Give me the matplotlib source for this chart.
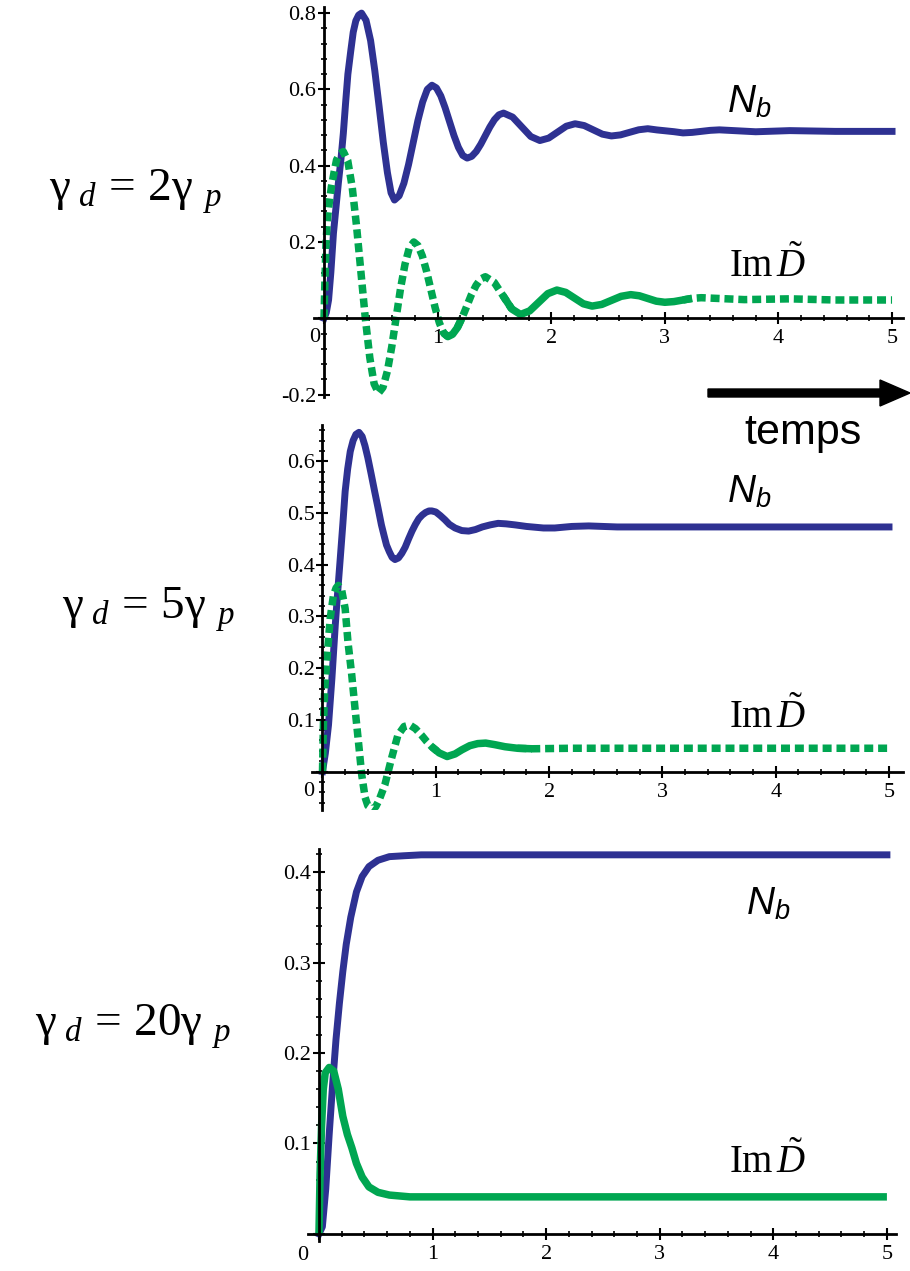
import matplotlib
matplotlib.use("Agg")
import matplotlib.pyplot as plt
from matplotlib.transforms import Affine2D
from matplotlib.patches import FancyArrow
from matplotlib.ticker import MultipleLocator, FuncFormatter

# ---------------- data ----------------
# panel 1 : gamma_d = 2 gamma_p
t_nb_1 = [0, 0.02, 0.04, 0.06, 0.083, 0.105, 0.126, 0.15, 0.17, 0.19, 0.21, 0.235, 0.257, 0.28, 0.305, 0.33,
          0.37, 0.41, 0.447, 0.485, 0.522, 0.558, 0.59, 0.62,
          0.661, 0.703, 0.744, 0.785, 0.826, 0.868, 0.909, 0.95,
          0.989, 1.028, 1.066, 1.105, 1.144, 1.183, 1.221, 1.26,
          1.30, 1.34, 1.38, 1.42, 1.46, 1.50, 1.54, 1.58,
          1.66, 1.74, 1.82, 1.90, 1.9775, 2.055, 2.1325, 2.21,
          2.29, 2.37, 2.45, 2.53, 2.61, 2.69, 2.77, 2.85,
          2.93, 3.005, 3.08, 3.16, 3.24, 3.32, 3.40, 3.48,
          3.8, 4.1, 4.5, 5.0]
nb_1 = [0, 0.015, 0.048, 0.12, 0.223, 0.29, 0.354, 0.42, 0.485, 0.565, 0.64, 0.70, 0.75, 0.78, 0.795, 0.80,
        0.781, 0.728, 0.649, 0.555, 0.461, 0.382, 0.329, 0.31,
        0.321, 0.354, 0.403, 0.4605, 0.518, 0.567, 0.600, 0.611,
        0.604, 0.583, 0.552, 0.5155, 0.479, 0.448, 0.427, 0.42,
        0.4245, 0.4373, 0.4564, 0.479, 0.5016, 0.5207, 0.5335, 0.538,
        0.5275, 0.502, 0.4765, 0.466, 0.4724, 0.488, 0.5036, 0.51,
        0.5053, 0.494, 0.4827, 0.478, 0.4808, 0.4875, 0.4942, 0.497,
        0.4938, 0.4915, 0.4892, 0.486, 0.4873, 0.490, 0.4927, 0.494,
        0.489, 0.492, 0.49, 0.49]

t_im_1 = [0, 0.008, 0.018, 0.03, 0.045, 0.065, 0.09, 0.11, 0.14, 0.17,
          0.209, 0.248, 0.286, 0.325, 0.364, 0.403, 0.441, 0.48,
          0.519, 0.558, 0.596, 0.635, 0.674, 0.713, 0.751, 0.79,
          0.8275, 0.865, 0.9025, 0.94, 0.9775, 1.015, 1.0525, 1.09,
          1.131, 1.173, 1.214, 1.255, 1.296, 1.338, 1.379, 1.42,
          1.4975, 1.575, 1.6525, 1.73, 1.81, 1.89, 1.97, 2.05,
          2.1275, 2.205, 2.2825, 2.36, 2.445, 2.53, 2.615, 2.70,
          2.775, 2.85, 2.925, 3.0, 3.08, 3.16, 3.24, 3.32,
          3.7, 4.1, 4.5, 5.0]
im_1 = [0, 0.10, 0.20, 0.26, 0.30, 0.345, 0.385, 0.415, 0.432, 0.437,
        0.413, 0.344, 0.2425, 0.1205, -0.0015, -0.1033, -0.1719, -0.196,
        -0.181, -0.138, -0.075, 0.002, 0.079, 0.142, 0.185, 0.20,
        0.1906, 0.1637, 0.1235, 0.076, 0.0285, -0.0117, -0.0386, -0.048,
        -0.042, -0.025, 0.0005, 0.0305, 0.061, 0.086, 0.103, 0.109,
        0.0945, 0.0595, 0.0245, 0.010, 0.0194, 0.042, 0.0646, 0.074,
        0.0679, 0.053, 0.0381, 0.032, 0.0364, 0.047, 0.0576, 0.062,
        0.0591, 0.052, 0.0449, 0.042, 0.0438, 0.048, 0.0522, 0.054,
        0.049, 0.051, 0.048, 0.048]

# panel 2 : gamma_d = 5 gamma_p
t_nb_2 = [0, 0.025, 0.053, 0.083, 0.113, 0.135, 0.157, 0.18, 0.20, 0.222, 0.245, 0.27, 0.295, 0.322,
          0.35, 0.375, 0.40, 0.43, 0.46, 0.49, 0.52, 0.545, 0.565, 0.59, 0.615, 0.64,
          0.67, 0.70, 0.73, 0.76, 0.79, 0.82, 0.85, 0.88, 0.91, 0.94, 0.965,
          1.0, 1.04, 1.08, 1.12, 1.17, 1.23, 1.29,
          1.35, 1.41, 1.48, 1.55, 1.62, 1.70, 1.80, 1.95, 2.05, 2.2, 2.35, 2.6, 3.0, 5.0]
nb_2 = [0, 0.035, 0.09, 0.18, 0.284, 0.35, 0.413, 0.48, 0.542, 0.585, 0.619, 0.64, 0.652, 0.656,
        0.648, 0.63, 0.607, 0.575, 0.542, 0.51, 0.477, 0.455, 0.438, 0.425, 0.414, 0.41,
        0.413, 0.422, 0.434, 0.45, 0.465, 0.478, 0.489, 0.496, 0.501, 0.504, 0.504,
        0.502, 0.495, 0.487, 0.478, 0.471, 0.466, 0.465,
        0.468, 0.473, 0.477, 0.48, 0.479, 0.477, 0.474, 0.471, 0.471, 0.474, 0.475, 0.473, 0.473, 0.473]

t_im_2 = [0, 0.008, 0.02, 0.04, 0.068, 0.096, 0.12, 0.14,
          0.17, 0.20, 0.225, 0.258, 0.287, 0.317, 0.346, 0.376, 0.40, 0.44, 0.47,
          0.50, 0.55, 0.61, 0.665, 0.72, 0.77, 0.82, 0.875, 0.92, 0.964, 1.03, 1.10,
          1.17, 1.23, 1.30, 1.37, 1.44, 1.52, 1.61, 1.72, 1.85, 2.2, 3.0, 5.0]
im_2 = [0, 0.09, 0.16, 0.22, 0.296, 0.34, 0.355, 0.36,
        0.35, 0.315, 0.25, 0.187, 0.122, 0.058, -0.006, -0.05, -0.066, -0.072, -0.068,
        -0.055, -0.026, 0.026, 0.07, 0.087, 0.09, 0.083, 0.07, 0.058, 0.048, 0.036, 0.029,
        0.034, 0.042, 0.05, 0.054, 0.055, 0.052, 0.048, 0.045, 0.044, 0.045, 0.045, 0.045]

# panel 3 : gamma_d = 20 gamma_p
t_nb_3 = [0, 0.03, 0.06, 0.09, 0.12, 0.15, 0.18, 0.21, 0.24, 0.28, 0.33, 0.38, 0.44, 0.52, 0.62, 0.75, 0.9, 1.2, 5.0]
nb_3 = [0, 0.008, 0.05, 0.11, 0.165, 0.215, 0.255, 0.29, 0.32, 0.35, 0.378, 0.395, 0.406, 0.413, 0.417, 0.418,
        0.419, 0.419, 0.419]

t_im_3 = [0, 0.01, 0.023, 0.038, 0.055, 0.09, 0.13, 0.17, 0.21, 0.25, 0.29, 0.33, 0.38, 0.44, 0.52, 0.62, 0.8, 1.0, 5.0]
im_3 = [0, 0.067, 0.12, 0.16, 0.178, 0.184, 0.18, 0.16, 0.13, 0.11, 0.095, 0.078, 0.063, 0.052, 0.046, 0.043,
        0.041, 0.041, 0.041]

x_ticks = [0, 1, 2, 3, 4, 5]
left_labels = [r'$\mathrm{\gamma}_{\ d}\,=\,2\mathrm{\gamma}_{\ \,p}$',
               r'$\mathrm{\gamma}_{\ d}\,=\,5\mathrm{\gamma}_{\ \,p}$',
               r'$\mathrm{\gamma}_{\ d}\,=\,20\mathrm{\gamma}_{\ \,p}$']
nb_label = r'$\mathsf{N}_{\mathsf{b}}$'
im_label = r'$\mathrm{Im}\,\tilde{D}$'
time_label = 'temps'

# ---------------- style ----------------
plt.rcParams['font.family'] = ['Liberation Serif', 'DejaVu Serif']
plt.rcParams['mathtext.fontset'] = 'custom'
plt.rcParams['mathtext.rm'] = 'Liberation Serif'
plt.rcParams['mathtext.it'] = 'Liberation Serif:italic'
plt.rcParams['mathtext.sf'] = 'Liberation Sans:italic'

BLUE = '#2E3192'
GREEN = '#00A651'
TICK_FS = 16

W, H = 910, 1271
fig = plt.figure(figsize=(W / 100, H / 100), dpi=100)
px = Affine2D().scale(1 / W, -1 / H).translate(0, 1) + fig.transFigure


def make_axes(l, t, r, b, xlim, ylim, ymaj, ymin):
    ax = fig.add_axes([l / W, 1 - b / H, (r - l) / W, (b - t) / H])
    ax.set_xlim(*xlim)
    ax.set_ylim(*ylim)
    for s in ('top', 'right'):
        ax.spines[s].set_visible(False)
    for s in ('left', 'bottom'):
        ax.spines[s].set_position(('data', 0))
        ax.spines[s].set_linewidth(2.0)
    ax.set_xticks(x_ticks)
    ax.xaxis.set_minor_locator(MultipleLocator(0.2))
    ax.yaxis.set_major_locator(MultipleLocator(ymaj))
    ax.yaxis.set_minor_locator(MultipleLocator(ymin))
    fmt = FuncFormatter(lambda v, p: '' if abs(v) < 1e-9 else f'{v:g}')
    ax.xaxis.set_major_formatter(fmt)
    ax.yaxis.set_major_formatter(fmt)
    ax.tick_params(which='major', direction='inout', length=8, width=1.5, labelsize=TICK_FS)
    ax.tick_params(axis='x', which='major', pad=4)
    ax.tick_params(axis='y', which='major', pad=1.5)
    ax.tick_params(which='minor', direction='inout', length=4, width=1.2)
    ax.patch.set_alpha(0)
    return ax


def plot_green(ax, t, v, segments):
    for a, b, style in segments:
        idx = [i for i in range(len(t)) if t[i] >= a and t[i] <= b]
        i0 = max(idx[0] - 1, 0) if t[idx[0]] > a else idx[0]
        i1 = min(idx[-1] + 1, len(t) - 1) if t[idx[-1]] < b else idx[-1]
        tt = t[i0:i1 + 1]
        vv = v[i0:i1 + 1]
        if style == 'dot':
            ax.plot(tt, vv, color=GREEN, lw=5.4, linestyle=(0, (1.2, 0.65)),
                    dash_capstyle='butt', solid_joinstyle='round')
        else:
            ax.plot(tt, vv, color=GREEN, lw=5.4, solid_capstyle='butt', solid_joinstyle='round')


ax1 = make_axes(313.8, 7.4, 903.4, 396.5, (-0.09, 5.1), (-0.205, 0.815), 0.2, 0.04)
ax2 = make_axes(312.3, 425.1, 902.6, 810.3, (-0.09, 5.12), (-0.075, 0.67), 0.1, 0.02)
ax3 = make_axes(307.6, 848.5, 896.0, 1241.2, (-0.1, 5.08), (-0.008, 0.426), 0.1, 0.02)

ax1.plot(t_nb_1, nb_1, color=BLUE, lw=5.0, solid_joinstyle='round')
plot_green(ax1, t_im_1, im_1, [(0, 1.055, 'dot'), (1.055, 1.2, 'solid'), (1.2, 1.6, 'dot'),
                               (1.6, 3.2, 'solid'), (3.2, 5.0, 'dot')])
ax2.plot(t_nb_2, nb_2, color=BLUE, lw=5.0, solid_joinstyle='round')
plot_green(ax2, t_im_2, im_2, [(0, 1.0, 'dot'), (1.0, 1.8, 'solid'), (1.8, 5.0, 'dot')])
ax3.plot(t_nb_3, nb_3, color=BLUE, lw=5.0, solid_joinstyle='round')
plot_green(ax3, t_im_3, im_3, [(0, 5.0, 'solid')])

# origin "0" labels
for (x, y) in [(315, 338), (309, 792), (303, 1256)]:
    fig.text(x, y, '0', transform=px, ha='center', va='center', fontsize=TICK_FS,
             family='Liberation Serif')

# left gamma labels
for (x, y), s in zip([(135, 192), (148, 610), (133, 1027)], left_labels):
    fig.text(x, y, s, transform=px, ha='center', va='center', fontsize=34)

# curve labels
for (x, y) in [(749, 103), (749, 493), (768, 905)]:
    fig.text(x, y, nb_label, transform=px, ha='center', va='center', fontsize=28)
for (x, y) in [(768, 266), (768, 717), (768, 1162)]:
    fig.text(x, y, im_label, transform=px, ha='center', va='center', fontsize=28)

# time arrow
fig.patches.append(FancyArrow(708, 393, 202, 0, width=8, head_width=26, head_length=30,
                              length_includes_head=True, color='black', transform=px))
fig.text(803, 433, time_label, transform=px, ha='center', va='center', fontsize=31,
         family='Liberation Sans')

fig.savefig('out.png', dpi=100)
